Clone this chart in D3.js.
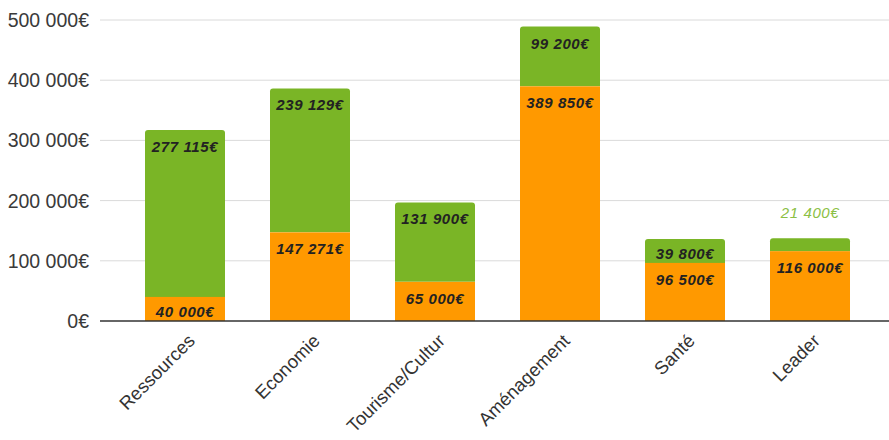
<!DOCTYPE html>
<html>
<head>
<meta charset="utf-8">
<script src="https://cdn.jsdelivr.net/npm/d3@7"></script>
<style>
  body { margin: 0; background: #fff; }
  text { font-family: "Liberation Sans", Arial, sans-serif; }
</style>
</head>
<body>
<div id="chart"></div>
<script>
// categories and the two stacked series
const categories = ["Ressources", "Economie", "Tourisme/Cultur", "Aménagement", "Santé", "Leader"];
const orangeValues = [40000, 147271, 65000, 389850, 96500, 116000];
const greenValues = [277115, 239129, 131900, 99200, 39800, 21400];
const yTicks = [0, 100000, 200000, 300000, 400000, 500000];

const width = 889, height = 440;
const orange = "#ff9900", green = "#7ab526";

const svg = d3.select("#chart").append("svg")
    .attr("width", width)
    .attr("height", height);

const x = d3.scaleBand().domain(categories).range([122.5, 872.5])
    .paddingInner(0.36).paddingOuter(0.18);
const y = d3.scaleLinear().domain([0, 500000]).range([321, 20]);

const euro = d => d3.format(",")(d).replace(/,/g, "\u00a0") + "€";

// gridlines
svg.append("g")
    .selectAll("line")
    .data(yTicks.slice(1))
    .join("line")
    .attr("x1", 100).attr("x2", width)
    .attr("y1", d => y(d)).attr("y2", d => y(d))
    .attr("stroke", "#dadada").attr("stroke-width", 1);

// y labels
svg.append("g")
    .selectAll("text")
    .data(yTicks)
    .join("text")
    .attr("x", 89)
    .attr("y", d => y(d))
    .attr("dy", "0.36em")
    .attr("text-anchor", "end")
    .attr("font-size", 19.5)
    .attr("fill", "#3a3a3a")
    .text(euro);

const rows = categories.map((c, i) => ({ c, o: orangeValues[i], g: greenValues[i] }));

// rounded top corners for the green segment
function topRounded(x0, y0, w, h, r) {
    r = Math.min(r, h);
    return `M${x0},${y0 + h}V${y0 + r}Q${x0},${y0} ${x0 + r},${y0}H${x0 + w - r}Q${x0 + w},${y0} ${x0 + w},${y0 + r}V${y0 + h}Z`;
}

svg.append("g")
    .selectAll("path")
    .data(rows)
    .join("path")
    .attr("d", d => topRounded(x(d.c), y(d.o + d.g), x.bandwidth(), y(d.o) - y(d.o + d.g), 3))
    .attr("fill", green);

svg.append("g")
    .selectAll("rect")
    .data(rows)
    .join("rect")
    .attr("x", d => x(d.c))
    .attr("y", d => y(d.o))
    .attr("width", x.bandwidth())
    .attr("height", d => y(0) - y(d.o))
    .attr("fill", orange);

// baseline
svg.append("line")
    .attr("x1", 100).attr("x2", width)
    .attr("y1", y(0)).attr("y2", y(0))
    .attr("stroke", "#333").attr("stroke-width", 1.3);

// value labels
const lab = svg.append("g")
    .attr("font-size", 15)
    .attr("font-style", "italic")
    .attr("font-weight", "bold")
    .attr("letter-spacing", 0.6)
    .attr("text-anchor", "middle");

lab.selectAll("text.o")
    .data(rows)
    .join("text")
    .attr("class", "o")
    .attr("x", d => x(d.c) + x.bandwidth() / 2)
    .attr("y", d => Math.min(y(d.o) + 22, y(0) - 4))
    .attr("fill", "#222")
    .text(d => euro(d.o));

const small = d => (y(d.o) - y(d.o + d.g)) < 20;

lab.selectAll("text.g")
    .data(rows)
    .join("text")
    .attr("class", "g")
    .attr("x", d => x(d.c) + x.bandwidth() / 2)
    .attr("y", d => small(d) ? y(d.o + d.g) - 20 : Math.min(y(d.o + d.g) + 22, y(d.o) - 4))
    .attr("fill", d => small(d) ? "#8cbf45" : "#222")
    .attr("font-weight", d => small(d) ? "normal" : "bold")
    .text(d => euro(d.g));

// x labels
svg.append("g")
    .selectAll("text")
    .data(categories)
    .join("text")
    .attr("transform", d => `translate(${x(d) + x.bandwidth() / 2 + 11},${y(0) + 21}) rotate(-45)`)
    .attr("text-anchor", "end")
    .attr("font-size", 18.5)
    .attr("fill", "#333")
    .text(d => d);
</script>
</body>
</html>
